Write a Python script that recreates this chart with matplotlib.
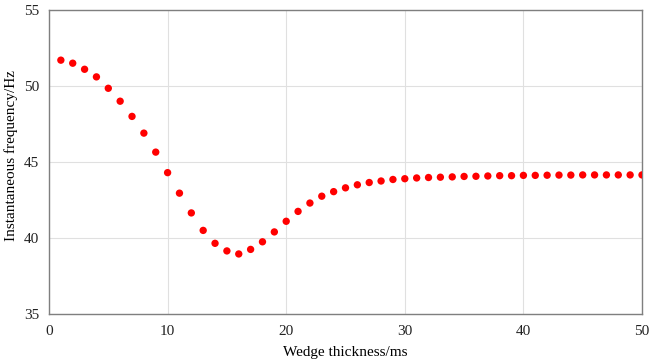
"""
Instantaneous frequency versus wedge thickness (scatter).
"""

import matplotlib.pyplot as plt
import numpy as np

thickness_ms = np.arange(1, 51)
freq_hz = [
    51.7, 51.5, 51.1, 50.6, 49.85, 49.0, 48.0, 46.9, 45.65, 44.3,
    42.95, 41.65, 40.5, 39.65, 39.15, 38.95, 39.25, 39.75, 40.4, 41.1,
    41.75, 42.3, 42.75, 43.05, 43.3, 43.5, 43.65, 43.75, 43.85, 43.9,
    43.95, 43.98, 44.0, 44.02, 44.05, 44.06, 44.08, 44.1, 44.1, 44.12,
    44.12, 44.13, 44.14, 44.14, 44.15, 44.15, 44.15, 44.15, 44.15, 44.15,
]

plt.rcParams["font.family"] = ["Liberation Serif", "DejaVu Serif"]

fig = plt.figure(figsize=(6.49, 3.62), dpi=100)
ax = fig.add_axes([49 / 649, 1 - 314 / 362, (642 - 49) / 649, (314 - 10) / 362])

ax.scatter(thickness_ms, freq_hz, s=28, color="#ff0000", edgecolors="none", zorder=3)

ax.set_xlim(0, 50)
ax.set_ylim(35, 55)
ax.set_xticks([0, 10, 20, 30, 40, 50])
ax.set_yticks([35, 40, 45, 50, 55])
ax.grid(True, color="#e0e0e0", linewidth=0.8)
ax.set_axisbelow(True)
ax.tick_params(length=0, labelsize=11, colors="#222222")
ax.tick_params(axis="x", pad=8)
ax.tick_params(axis="y", pad=7)
for s in ax.spines.values():
    s.set_color("#7f7f7f")
    s.set_linewidth(1.0)

ax.set_xlabel("Wedge thickness/ms", fontsize=11, labelpad=6)
ax.set_ylabel("Instantaneous frequency/Hz", fontsize=11)
ax.yaxis.set_label_coords(-0.052, 0.52)

fig.savefig("out.png", dpi=100)
